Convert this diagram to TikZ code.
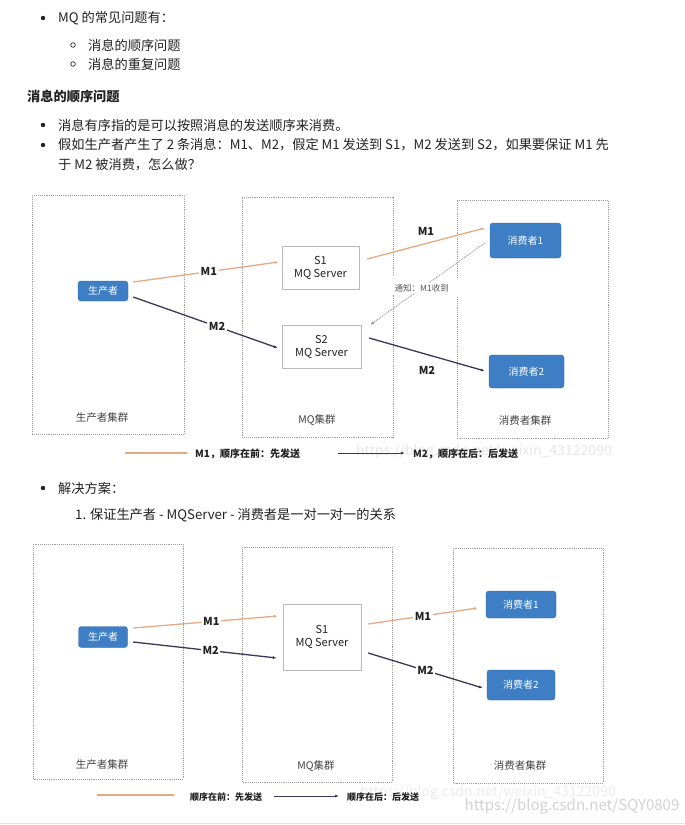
\documentclass[tikz,border=0pt]{standalone}
\usepackage{fontspec}
\setmainfont{Noto Sans CJK SC}
\usepackage{tikz}
\usetikzlibrary{arrows.meta}

\definecolor{txt}{RGB}{34,34,34}
\definecolor{nodeblue}{RGB}{62,126,196}
\definecolor{nodeedge}{RGB}{48,100,165}
\definecolor{firstline}{RGB}{228,170,132}
\definecolor{secondline}{RGB}{58,56,88}

\begin{document}
\begin{tikzpicture}[x=1pt,y=-1pt,
  body/.style={anchor=west,inner sep=0pt,text=txt,font=\fontsize{13.2}{16}\selectfont},
  cluster/.style={draw=gray!75,densely dotted,line width=0.9pt},
  actor/.style={draw=nodeedge,fill=nodeblue,rounded corners=3pt,text=white,
    inner sep=0pt,font=\fontsize{10}{12}\selectfont},
  server/.style={draw=gray!55,fill=white,inner sep=0pt,align=center,
    font=\fontsize{11}{13}\selectfont,text=txt},
  grp/.style={text=txt!85,font=\fontsize{10.5}{12}\selectfont},
  lbl/.style={fill=white,inner sep=1.5pt,text=txt,font=\bfseries\fontsize{11}{13}\selectfont},
  keytext/.style={anchor=west,inner sep=0pt,text=txt,font=\bfseries\fontsize{10}{12}\selectfont},
  mone/.style={firstline,line width=1.3pt,-{Latex[length=4pt,width=3pt]}},
  mtwo/.style={secondline,line width=1.3pt,-{Latex[length=4pt,width=3pt]}},
  notify/.style={gray!85,densely dotted,line width=0.9pt,-{Latex[length=4pt,width=3pt]}},
  watermark/.style={text=gray!30,inner sep=0pt,font=\fontsize{14}{16}\selectfont}]
  \useasboundingbox[fill=white] (0,0) rectangle (685,825);

  % text above the pictures
  \fill[txt] (43,18) circle (2.2);
  \node[body] (l1) at (58,18) {MQ 的常见问题有：};
  \draw[txt,line width=0.7pt] (73,45) circle (2.3);
  \node[body] (l2) at (88,45) {消息的顺序问题};
  \draw[txt,line width=0.7pt] (73,64) circle (2.3);
  \node[body] (l3) at (88,64) {消息的重复问题};
  \node[body,font=\bfseries\fontsize{13.2}{16}\selectfont] (h1) at (27,96) {消息的顺序问题};
  \fill[txt] (43,125) circle (2.2);
  \node[body] (l4) at (58,125) {消息有序指的是可以按照消息的发送顺序来消费。};
  \fill[txt] (43,145) circle (2.2);
  \node[body] (l5) at (58,145) {假如生产者产生了 2 条消息：M1、M2，假定 M1 发送到 S1，M2 发送到 S2，如果要保证 M1 先};
  \node[body] (l6) at (58,165) {于 M2 被消费，怎么做？};

  % first picture
  \draw[cluster] (32,195) rectangle (184,434);
  \draw[cluster] (393,275) -- (393,197) -- (242,197) -- (242,437) -- (393,437) -- (393,295);
  \draw[cluster] (457,278) -- (457,200) -- (608,200) -- (608,438) -- (457,438) -- (457,297);
  \node[actor,minimum width=50pt,minimum height=20pt] (pa) at (103,291) {生产者};
  \node[server,minimum width=77pt,minimum height=43pt] (sa1) at (320.5,267.5) {S1\\MQ Server};
  \node[server,minimum width=79pt,minimum height=43pt] (sa2) at (321.5,346.5) {S2\\MQ Server};
  \node[actor,minimum width=71pt,minimum height=35pt] (ca1) at (525.5,240.5) {消费者1};
  \node[actor,minimum width=75pt,minimum height=33pt] (ca2) at (526.5,371.5) {消费者2};
  \node[grp] (ga1) at (102,418) {生产者集群};
  \node[grp] (ga2) at (317,420) {MQ集群};
  \node[grp] (ga3) at (525,420) {消费者集群};
  \draw[mone] ([xshift=5pt,yshift=9pt]pa.east) -- node[lbl,pos=0.52] {M1} ([xshift=-3pt,yshift=5.5pt]sa1.west);
  \draw[mtwo] ([xshift=5pt,yshift=-6pt]pa.east) -- node[lbl,pos=0.58] {M2} ([xshift=-4pt,yshift=-1.5pt]sa2.west);
  \draw[mone] ([xshift=8pt,yshift=8.5pt]sa1.east) -- node[lbl,pos=0.5,above=6pt] {M1} ([xshift=-5pt,yshift=12.5pt]ca1.west);
  \draw[mtwo] ([xshift=8pt,yshift=8.5pt]sa2.east) -- node[lbl,pos=0.5,below=10pt] {M2} ([xshift=-4pt,yshift=0.5pt]ca2.west);
  \draw[notify] ([xshift=-5pt,yshift=-2.5pt]ca1.west) -- node[pos=0.55,fill=white,inner sep=1pt,text=gray!70!black,
    font=\fontsize{8.5}{10}\selectfont] {通知：M1收到} ([xshift=9pt]sa2.north east);
  \node[watermark,text=gray!18] (wa) at (484,452) {https://blog.csdn.net/weixin\_43122090};
  \coordinate (ka1) at (125,453);
  \coordinate (ka2) at (189,453);
  \draw[mone] (ka1) -- (ka2);
  \node[keytext] (ta1) at (195,454) {M1，顺序在前：先发送};
  \coordinate (ka3) at (338,453);
  \coordinate (ka4) at (405,453);
  \draw[mtwo,line width=1pt] (ka3) -- (ka4);
  \node[keytext] (ta2) at (413,454) {M2，顺序在后：后发送};

  % text between the pictures
  \fill[txt] (43,488) circle (2.2);
  \node[body] (l7) at (58,488) {解决方案：};
  \node[body] (l8) at (75,515) {1. 保证生产者 - MQServer - 消费者是一对一对一的关系};

  % second picture
  \draw[cluster] (33,544) rectangle (183,779);
  \draw[cluster] (242,547) rectangle (392,782);
  \draw[cluster] (453,548) rectangle (603,783);
  \node[actor,minimum width=49pt,minimum height=21pt] (pb) at (103,637) {生产者};
  \node[server,minimum width=78pt,minimum height=66pt] (sb) at (322,637) {S1\\MQ Server};
  \node[actor,minimum width=70pt,minimum height=27pt] (cb1) at (521,604.5) {消费者1};
  \node[actor,minimum width=68pt,minimum height=30pt] (cb2) at (521,685) {消费者2};
  \node[grp] (gb1) at (102,765) {生产者集群};
  \node[grp] (gb2) at (316,766) {MQ集群};
  \node[grp] (gb3) at (520,765) {消费者集群};
  \draw[mone] ([xshift=5.5pt,yshift=9pt]pb.east) -- node[lbl,pos=0.54] {M1} ([xshift=-5pt,yshift=21pt]sb.west);
  \draw[mtwo] ([xshift=5.5pt,yshift=-5pt]pb.east) -- node[lbl,pos=0.54] {M2} ([xshift=-6pt,yshift=-21pt]sb.west);
  \draw[mone] ([xshift=7pt,yshift=13pt]sb.east) -- node[lbl,pos=0.5] {M1} ([xshift=-8pt,yshift=-3.5pt]cb1.west);
  \draw[mtwo] ([xshift=7pt,yshift=-16pt]sb.east) -- node[lbl,pos=0.5] {M2} ([xshift=-4pt,yshift=-3pt]cb2.west);
  \node[watermark,text=gray!15] (wb1) at (488,793) {https://blog.csdn.net/weixin\_43122090};
  \coordinate (kb1) at (97,795);
  \coordinate (kb2) at (176,795);
  \draw[mone] (kb1) -- (kb2);
  \node[keytext,font=\bfseries\fontsize{9}{11}\selectfont] (tb1) at (190,797) {顺序在前：先发送};
  \coordinate (kb3) at (274,796);
  \coordinate (kb4) at (339,796);
  \draw[mtwo,line width=1pt] (kb3) -- (kb4);
  \node[keytext,font=\bfseries\fontsize{9}{11}\selectfont] (tb2) at (347,797) {顺序在后：后发送};
  \node[watermark,text=gray!35,font=\fontsize{15}{17}\selectfont] (wb2) at (572,806) {https://blog.csdn.net/SQY0809};
  \draw[gray!20,line width=1pt] (0,823) -- (685,823);
\end{tikzpicture}
\end{document}
